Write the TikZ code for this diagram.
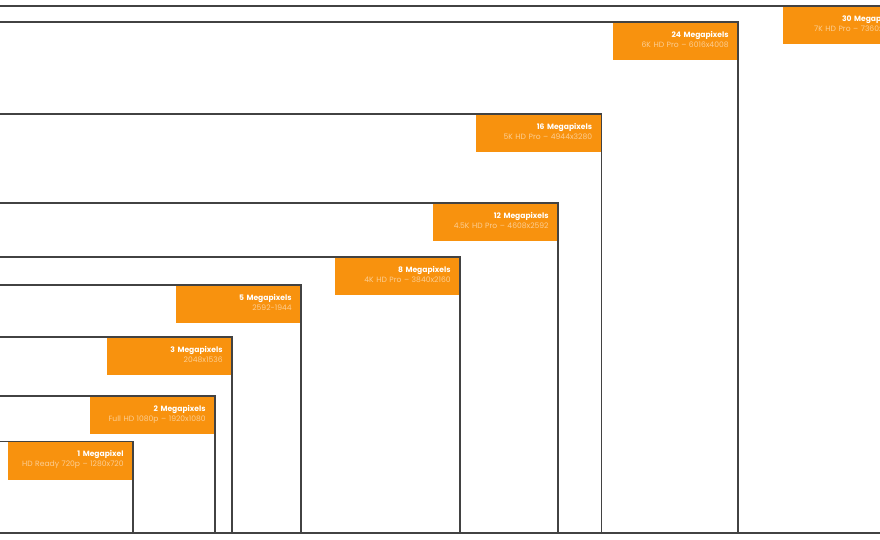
\documentclass[tikz,border=0pt]{standalone}
\usepackage{fontspec}
\setmainfont{Poppins}
\definecolor{tagorange}{RGB}{248,146,14}
\definecolor{framegray}{RGB}{66,66,66}
\colorlet{subtext}{white!55!tagorange}
\newcommand{\tagtext}[2]{{\bfseries #1}\\\textcolor{subtext}{#2\rule[-4pt]{0pt}{0pt}}}
\tikzset{frame/.style={draw=framegray, line width=1.3pt},
  tag/.style={fill=tagorange, anchor=north east, outer sep=0.65pt, minimum width=124.5pt, minimum height=37.5pt, text width=107pt, inner xsep=8.75pt, inner ysep=0pt, align=right, text=white, font=\fontsize{7.6}{10}\selectfont}}

\begin{document}
\begin{tikzpicture}[x=1pt,y=1pt]
\useasboundingbox (0,0) rectangle (880,540);
\clip (0,0) rectangle (880,540);
\draw[frame] (-10,7) rectangle (908.5,534) node[tag] (mp30) {\tagtext{30 Megapixels}{7K HD Pro -- 7360x4128}};
\draw[frame] (-10,7) rectangle (738,518) node[tag] (mp24) {\tagtext{24 Megapixels}{6K HD Pro -- 6016x4008}};
\draw[frame] (-10,7) rectangle (601.5,426) node[tag] (mp16) {\tagtext{16 Megapixels}{5K HD Pro -- 4944x3280}};
\draw[frame] (-10,7) rectangle (558,337) node[tag] (mp12) {\tagtext{12 Megapixels}{4.5K HD Pro -- 4608x2592}};
\draw[frame] (-10,7) rectangle (460,283) node[tag] (mp8) {\tagtext{8 Megapixels}{4K HD Pro -- 3840x2160}};
\draw[frame] (-10,7) rectangle (301,255) node[tag] (mp5) {\tagtext{5 Megapixels}{2592-1944}};
\draw[frame] (-10,7) rectangle (232,203) node[tag] (mp3) {\tagtext{3 Megapixels}{2048x1536}};
\draw[frame] (-10,7) rectangle (215,144) node[tag] (mp2) {\tagtext{2 Megapixels}{Full HD 1080p -- 1920x1080}};
\draw[frame] (-10,7) rectangle (133,98.5) node[tag] (mp1) {\tagtext{1 Megapixel}{HD Ready 720p -- 1280x720}};
\end{tikzpicture}
\end{document}
